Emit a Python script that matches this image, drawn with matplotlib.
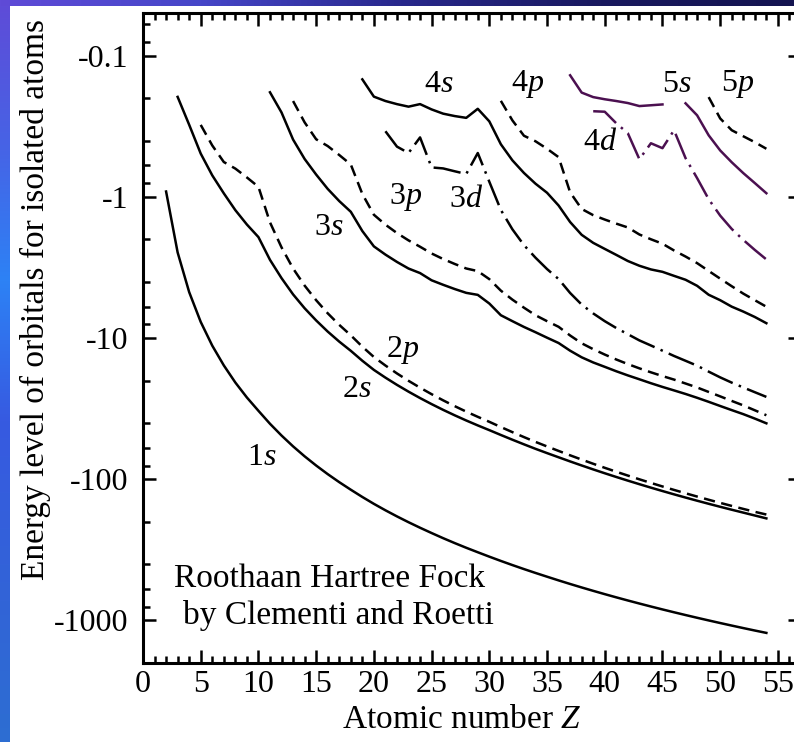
import numpy as np
import matplotlib
matplotlib.use('Agg')
import matplotlib.pyplot as plt
from matplotlib.ticker import MultipleLocator, LogLocator, NullFormatter

plt.rcParams['font.family'] = ['Liberation Serif', 'DejaVu Serif']
plt.rcParams['mathtext.fontset'] = 'custom'
plt.rcParams['mathtext.rm'] = 'Liberation Serif'
plt.rcParams['mathtext.it'] = 'Liberation Serif:italic'

# orbital energies of neutral atoms (hartree), first Z of each orbital + values
z0_1s = 2
e_1s = [-0.918, -2.478, -4.733, -7.695, -11.33, -15.63, -20.67, -26.38, -32.77,
        -40.48, -49.03, -58.50, -68.81, -79.97, -92.00, -104.88, -118.61,
        -133.53, -149.36, -165.90, -183.27, -201.47, -220.50, -240.36, -261.37,
        -283.09, -305.62, -328.79, -353.31, -378.82, -405.24, -432.53, -460.70,
        -489.75, -520.17, -551.5, -583.7, -616.8, -650.9, -685.9, -721.8,
        -758.6, -796.4, -835.1, -874.7, -915.2, -956.7, -999.1, -1042.4,
        -1086.6, -1131.8, -1177.9, -1224.4]
z0_2s = 3
e_2s = [-0.1963, -0.3093, -0.4947, -0.7056, -0.9457, -1.2443, -1.5726, -1.9304,
        -2.797, -3.768, -4.911, -6.157, -7.511, -9.004, -10.607, -12.322,
        -14.49, -16.82, -19.08, -21.47, -23.98, -26.62, -29.38, -32.27, -35.26,
        -38.37, -41.58, -44.91, -48.6, -52.5, -56.6, -60.9, -65.3, -69.90,
        -74.8, -79.9, -85.2, -90.7, -96.4, -102.3, -108.4, -114.7, -121.2,
        -127.9, -134.8, -141.9, -149.2, -156.7, -164.4, -172.3, -180.6, -189.3]
z0_2p = 5
e_2p = [-0.3099, -0.4333, -0.5676, -0.6319, -0.7300, -0.8504, -1.518, -2.282,
        -3.218, -4.256, -5.401, -6.683, -8.072, -9.572, -11.52, -13.63, -15.66,
        -17.82, -20.09, -22.48, -24.99, -27.63, -30.37, -33.21, -36.15, -39.21,
        -42.7, -46.4, -50.3, -54.4, -58.6, -63.01, -67.7, -72.6, -77.7, -83.0,
        -88.5, -94.2, -100.1, -106.2, -112.5, -119.0, -125.7, -132.6, -139.7,
        -147.0, -154.5, -162.2, -170.1, -177.8]
z0_3s = 11
e_3s = [-0.1821, -0.2531, -0.3935, -0.5399, -0.6964, -0.8796, -1.0729, -1.2774,
        -1.7487, -2.2453, -2.5674, -2.8938, -3.2221, -3.47, -3.903, -4.20,
        -4.50, -4.79, -4.95, -5.70, -6.9, -7.6, -8.35, -9.1, -9.95, -10.85,
        -12.3, -13.7, -14.9, -16.0, -17.2, -18.4, -19.6, -20.9, -22.2, -23.5,
        -24.9, -26.5, -28.3, -30.3, -32.4, -34.6, -37.2, -40.18]
z0_3p = 13
e_3p = [-0.2100, -0.2973, -0.3917, -0.4374, -0.5064, -0.5910, -0.9551, -1.3409,
        -1.5758, -1.8068, -2.0362, -2.2584, -2.5207, -2.76, -2.99, -3.22, -3.36,
        -3.83, -4.62, -5.35, -6.1, -6.9, -7.6, -8.33, -9.6, -10.9, -12.0,
        -13.1, -14.2, -15.3, -16.4, -17.5, -18.6, -19.7, -21.0, -22.4, -24.1,
        -25.9, -27.9, -30.0, -32.5, -35.22]
z0_3d = 21
e_3d = [-0.3437, -0.4416, -0.49, -0.38, -0.62, -0.63, -0.66, -0.69, -0.4901,
        -0.7828, -1.24, -1.70, -2.2, -2.7, -3.25, -3.825, -4.8, -5.8, -6.7,
        -7.6, -8.5, -9.4, -10.4, -11.3, -12.3, -13.4, -14.5, -15.7, -17.3,
        -19.0, -20.7, -22.4, -24.2, -26.12]
z0_4s = 19
e_4s = [-0.1475, -0.1955, -0.2099, -0.2209, -0.2302, -0.2208, -0.2408, -0.2580,
        -0.2683, -0.2763, -0.2384, -0.2925, -0.4249, -0.5523, -0.6783, -0.8079,
        -0.9368, -1.1530, -1.51, -1.86, -2.12, -2.34, -2.58, -2.85, -3.08,
        -3.27, -3.40, -3.63, -3.87, -4.27, -4.94, -5.4, -6.0, -6.5, -7.1, -7.856]
z0_4p = 31
e_4p = [-0.2094, -0.2880, -0.3698, -0.4047, -0.4571, -0.5243, -0.93, -1.22,
        -1.35, -1.45, -1.55, -1.65, -1.85, -2.0, -2.15, -2.4, -2.65, -2.95,
        -3.35, -3.8, -4.3, -4.85, -5.4, -6.008]
z0_4d = 39
e_4d = [-0.248, -0.250, -0.302, -0.355, -0.542, -0.418, -0.453, -0.338, -0.533,
        -0.738, -1.04, -1.36, -1.69, -2.02, -2.38, -2.778]
z0_5s = 37
e_5s = [-0.138, -0.183, -0.197, -0.204, -0.210, -0.217, -0.228, -0.225, -0.222,
        np.nan, -0.218, -0.265, -0.367, -0.47, -0.57, -0.68, -0.80, -0.944]
z0_5p = 49
e_5p = [-0.197, -0.279, -0.338, -0.373, -0.411, -0.4573]

curve_labels = ['1s', '2s', '2p', '3s', '3p', '3d', '4s', '4p', '4d', '5s', '5p']
label_z = [10.3, 18.5, 22.5, 16.1, 22.7, 28.0, 25.6, 33.3, 39.6, 46.2, 51.5]
label_e = [-69.8, -23.1, -12.1, -1.66, -1.0, -1.05, -0.16, -0.16, -0.411, -0.16, -0.16]

ytick_vals = [-0.1, -1, -10, -100, -1000]
ytick_labels = ['-0.1', '-1', '-10', '-100', '-1000']

purple = '#4b1050'
dash = (0, (4.5, 2.6))
dashdot = (0, (11, 2.6, 1, 2.6))

fig = plt.figure(figsize=(7.94, 7.42), dpi=100)

# blue slide frame behind the white page
H, W = 742, 794
img = np.ones((H, W, 3))
ys = [0, 150, 280, 420, 600, 742]
left_cols = np.array([(95, 75, 215), (70, 100, 230), (45, 130, 245),
                      (55, 90, 225), (50, 100, 215), (45, 110, 210)]) / 255
for c in range(3):
    img[:, :10, c] = np.interp(np.arange(H), ys, left_cols[:, c])[:, None]
xs = [0, 200, 400, 600, 794]
top_cols = np.array([(95, 75, 215), (70, 70, 200), (40, 40, 140),
                     (25, 25, 95), (20, 20, 80)]) / 255
for c in range(3):
    img[:6, :, c] = np.interp(np.arange(W), xs, top_cols[:, c])[None, :]
bg = fig.add_axes([0, 0, 1, 1], zorder=-10)
bg.imshow(img, aspect='auto', interpolation='nearest')
bg.axis('off')

ax = fig.add_axes([143 / 794, 79 / 742, 658 / 794, 650 / 742])
ax.patch.set_alpha(0)

def draw(z0, e, **kw):
    z = np.arange(z0, z0 + len(e))
    ax.plot(z, -np.array(e), lw=1.8, **kw)

draw(z0_1s, e_1s, color='black')
draw(z0_2s, e_2s, color='black')
draw(z0_2p, e_2p, color='black', ls=dash)
draw(z0_3s, e_3s, color='black')
draw(z0_3p, e_3p, color='black', ls=dash)
draw(z0_3d, e_3d, color='black', ls=dashdot)
draw(z0_4s, e_4s, color='black')
draw(z0_4p, e_4p, color='black', ls=dash)
draw(z0_4d, e_4d, color=purple, ls=dashdot)
draw(z0_5s, e_5s, color=purple)
draw(z0_5p, e_5p, color='black', ls=dash)

for lab, z, e in zip(curve_labels, label_z, label_e):
    ax.text(z, -e, lab[0] + '$' + lab[1] + '$', fontsize=23,
            ha='center', va='center')

ax.text(16.2, 507, 'Roothaan Hartree Fock', fontsize=24, ha='center', va='center')
ax.text(16.9, 925, 'by Clementi and Roetti', fontsize=24, ha='center', va='center')

ax.set_yscale('log')
ax.set_ylim(2000, 0.05)
ax.set_xlim(0, 57)
ax.set_yticks([-v for v in ytick_vals])
ax.set_yticklabels(ytick_labels)
ax.yaxis.set_minor_locator(LogLocator(base=10, subs=(2., 4., 6., 8.), numticks=20))
ax.yaxis.set_minor_formatter(NullFormatter())
ax.set_xticks(range(0, 56, 5))
ax.xaxis.set_minor_locator(MultipleLocator(1))

ax.tick_params(which='both', direction='in', top=True, right=True, width=1.8,
               labelsize=23)
ax.tick_params(which='major', length=9.5)
ax.tick_params(which='minor', length=5)
ax.tick_params(axis='y', which='minor', right=False)
ax.tick_params(axis='y', pad=10.5)
ax.tick_params(axis='x', pad=5)
for s in ax.spines.values():
    s.set_linewidth(2.2)

fig.text(462 / 794, 1 - 720 / 742, 'Atomic number $Z$', fontsize=24,
         ha='center', va='center')
fig.text(35 / 794, 1 - 300 / 742, 'Energy level of orbitals for isolated atoms',
         fontsize=24, ha='center', va='center', rotation=90)

fig.savefig('out.png', dpi=100)
